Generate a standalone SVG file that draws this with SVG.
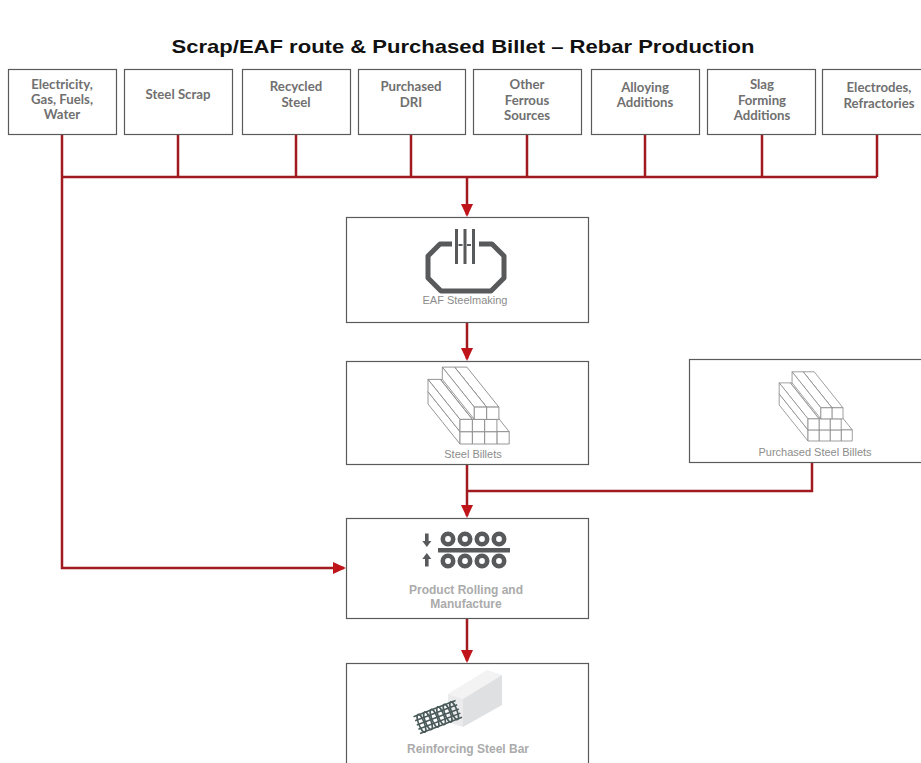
<svg xmlns="http://www.w3.org/2000/svg" width="921" height="763" viewBox="0 0 921 763">
<style>
.box{fill:#fff;stroke:#5a5a5a;stroke-width:1.2}
.t{font-family:"Lato","Liberation Sans",sans-serif;font-weight:700;font-size:13.2px;fill:#707070;text-anchor:middle}
.lbl{font-family:"Liberation Sans",Arial,sans-serif;font-size:11px;fill:#8c8c8c;text-anchor:middle}
.lblb{font-family:"Liberation Sans",Arial,sans-serif;font-weight:700;font-size:12px;fill:#ababab;text-anchor:middle}
.ln{fill:none;stroke:#a01a1f;stroke-width:2.5}
.ic{fill:#58595b}
.bar{fill:#fff;stroke:#8a8a8a;stroke-width:0.9;stroke-linejoin:round}
.cage{fill:none;stroke:#4b5a5a;stroke-width:1.6}
</style>
<defs>
<marker id="ah" markerUnits="userSpaceOnUse" markerWidth="13" markerHeight="12" viewBox="0 0 13 12" refX="11" refY="6" orient="auto">
<path d="M0,0 L13,6 L0,12 Z" fill="#c0141b"/>
</marker>
<g id="billets">
<path class="bar" d="M36.9,-12.3 h12.3 l-32,-40 h-12.3 Z"/><path class="bar" d="M36.9,-12.3 l-32,-40 v12.3 l32,40 Z"/><rect class="bar" x="36.9" y="-12.3" width="12.3" height="12.3"/>
<path class="bar" d="M24.6,-12.3 h12.3 l-32,-40 h-12.3 Z"/><path class="bar" d="M24.6,-12.3 l-32,-40 v12.3 l32,40 Z"/><rect class="bar" x="24.6" y="-12.3" width="12.3" height="12.3"/>
<path class="bar" d="M12.3,-12.3 h12.3 l-32,-40 h-12.3 Z"/><path class="bar" d="M12.3,-12.3 l-32,-40 v12.3 l32,40 Z"/><rect class="bar" x="12.3" y="-12.3" width="12.3" height="12.3"/>
<path class="bar" d="M0,-12.3 h12.3 l-32,-40 h-12.3 Z"/><path class="bar" d="M0,-12.3 l-32,-40 v12.3 l32,40 Z"/><rect class="bar" x="0" y="-12.3" width="12.3" height="12.3"/>
<path class="bar" d="M24.6,-24.6 h12.3 l-32,-40 h-12.3 Z"/><path class="bar" d="M24.6,-24.6 l-32,-40 v12.3 l32,40 Z"/><rect class="bar" x="24.6" y="-24.6" width="12.3" height="12.3"/>
<path class="bar" d="M12.3,-24.6 h12.3 l-32,-40 h-12.3 Z"/><path class="bar" d="M12.3,-24.6 l-32,-40 v12.3 l32,40 Z"/><rect class="bar" x="12.3" y="-24.6" width="12.3" height="12.3"/>
<path class="bar" d="M0,-24.6 h12.3 l-32,-40 h-12.3 Z"/><path class="bar" d="M0,-24.6 l-32,-40 v12.3 l32,40 Z"/><rect class="bar" x="0" y="-24.6" width="12.3" height="12.3"/>
<path class="bar" d="M26.6,-36.9 h12.3 l-32,-40 h-12.3 Z"/><path class="bar" d="M26.6,-36.9 l-32,-40 v12.3 l32,40 Z"/><rect class="bar" x="26.6" y="-36.9" width="12.3" height="12.3"/>
<path class="bar" d="M14.3,-36.9 h12.3 l-32,-40 h-12.3 Z"/><path class="bar" d="M14.3,-36.9 l-32,-40 v12.3 l32,40 Z"/><rect class="bar" x="14.3" y="-36.9" width="12.3" height="12.3"/>
</g>
</defs>

<text x="463" y="53" font-family="'Liberation Sans',Arial,sans-serif" font-weight="700" font-size="19" fill="#111" text-anchor="middle" textLength="583" lengthAdjust="spacingAndGlyphs">Scrap/EAF route &amp; Purchased Billet – Rebar Production</text>

<g id="connectors">
<path class="ln" d="M62,135 V568 H344" marker-end="url(#ah)"/>
<path class="ln" d="M62,177 H877"/>
<path class="ln" d="M178,135 V177 M296,135 V177 M411,135 V177 M527,135 V177 M645,135 V177 M762,135 V177 M877,135 V177"/>
<path class="ln" d="M467,177 V215" marker-end="url(#ah)"/>
<path class="ln" d="M467,323 V359" marker-end="url(#ah)"/>
<path class="ln" d="M467,465 V516" marker-end="url(#ah)"/>
<path class="ln" d="M812,463 V491 H467"/>
<path class="ln" d="M467,619 V661" marker-end="url(#ah)"/>
</g>

<g id="n-electricity"><rect class="box" x="8.5" y="69.5" width="108" height="65"/>
<text class="t" x="62" y="89">Electricity,</text><text class="t" x="62" y="104">Gas, Fuels,</text><text class="t" x="62" y="119">Water</text></g>
<g id="n-scrap"><rect class="box" x="124.5" y="69.5" width="108" height="65"/>
<text class="t" x="178" y="99">Steel Scrap</text></g>
<g id="n-recycled"><rect class="box" x="242.5" y="69.5" width="108" height="65"/>
<text class="t" x="296" y="91">Recycled</text><text class="t" x="296" y="107">Steel</text></g>
<g id="n-dri"><rect class="box" x="358.5" y="69.5" width="107" height="65"/>
<text class="t" x="411" y="91">Purchased</text><text class="t" x="411" y="107">DRI</text></g>
<g id="n-other"><rect class="box" x="473.5" y="69.5" width="108" height="65"/>
<text class="t" x="527" y="89">Other</text><text class="t" x="527" y="105">Ferrous</text><text class="t" x="527" y="120">Sources</text></g>
<g id="n-alloying"><rect class="box" x="591.5" y="69.5" width="108" height="65"/>
<text class="t" x="645" y="92">Alloying</text><text class="t" x="645" y="107">Additions</text></g>
<g id="n-slag"><rect class="box" x="707.5" y="69.5" width="108" height="65"/>
<text class="t" x="762" y="89">Slag</text><text class="t" x="762" y="105">Forming</text><text class="t" x="762" y="120">Additions</text></g>
<g id="n-electrodes"><rect class="box" x="822.5" y="69.5" width="110" height="65"/>
<text class="t" x="879" y="92">Electrodes,</text><text class="t" x="879" y="108">Refractories</text></g>

<g id="n-eaf"><rect class="box" x="346.5" y="217.5" width="242" height="105"/>
<path d="M452,244 H440 L428,256 V278 L441,291 H491 L504,278 V256 L492,244 H479" fill="none" stroke="#58595b" stroke-width="5" stroke-linejoin="round"/>
<rect class="ic" x="455" y="229" width="3" height="35"/><rect class="ic" x="463.5" y="229" width="3" height="35"/><rect class="ic" x="472" y="229" width="3" height="35"/>
<rect class="ic" x="458.5" y="244" width="4" height="2"/><rect class="ic" x="467" y="244" width="4" height="2"/>
<text class="lbl" x="465" y="304" font-size="11.5">EAF Steelmaking</text></g>

<g id="n-billets"><rect class="box" x="346.5" y="361.5" width="242" height="103"/>
<use href="#billets" transform="translate(460,444)"/>
<text class="lbl" x="473" y="458">Steel Billets</text></g>

<g id="n-purchased"><rect class="box" x="689.5" y="359.5" width="240" height="103"/>
<use href="#billets" transform="translate(808,441) scale(0.9)"/>
<text class="lbl" x="815" y="456">Purchased Steel Billets</text></g>

<g id="n-rolling"><rect class="box" x="346.5" y="518.5" width="242" height="100"/>
<g fill="#fff" stroke="#58595b" stroke-width="4.6">
<circle cx="448" cy="539" r="5.2"/><circle cx="465" cy="539" r="5.2"/><circle cx="482" cy="539" r="5.2"/><circle cx="499" cy="539" r="5.2"/>
<circle cx="448" cy="561" r="5.2"/><circle cx="465" cy="561" r="5.2"/><circle cx="482" cy="561" r="5.2"/><circle cx="499" cy="561" r="5.2"/>
</g>
<rect class="ic" x="438" y="548" width="72" height="4.5"/>
<rect class="ic" x="425" y="533.5" width="3.6" height="8"/><path class="ic" d="M422.3,541 H431.3 L426.8,547 Z"/>
<path class="ic" d="M422.3,559 H431.3 L426.8,553 Z"/><rect class="ic" x="425" y="558.5" width="3.6" height="8"/>
<text class="lblb" x="466" y="594">Product Rolling and</text><text class="lblb" x="466" y="608">Manufacture</text></g>

<g id="n-rebar"><rect class="box" x="346.5" y="663.5" width="242" height="110"/>
<polygon points="448,694 487,670 502,675 463,699" fill="#f3f3f3"/>
<polygon points="463,699 502,675 502,705 463,727" fill="#dfe0e2"/>
<polygon points="448,694 463,699 463,727 448,722" fill="#ebebed"/>
<g class="cage" transform="translate(456,710) rotate(-21)">
<path d="M3,-9 H-42 M3,-4.5 H-42 M3,0 H-42 M3,4.5 H-42 M3,9 H-42"/>
<ellipse cx="-2" cy="0" rx="2.8" ry="9.5"/><ellipse cx="-9" cy="0" rx="2.8" ry="9.5"/><ellipse cx="-16" cy="0" rx="2.8" ry="9.5"/><ellipse cx="-23" cy="0" rx="2.8" ry="9.5"/><ellipse cx="-30" cy="0" rx="2.8" ry="9.5"/><ellipse cx="-37" cy="0" rx="2.8" ry="9.5"/>
</g>
<text class="lblb" x="468" y="753" font-size="12.3">Reinforcing Steel Bar</text></g>
</svg>
